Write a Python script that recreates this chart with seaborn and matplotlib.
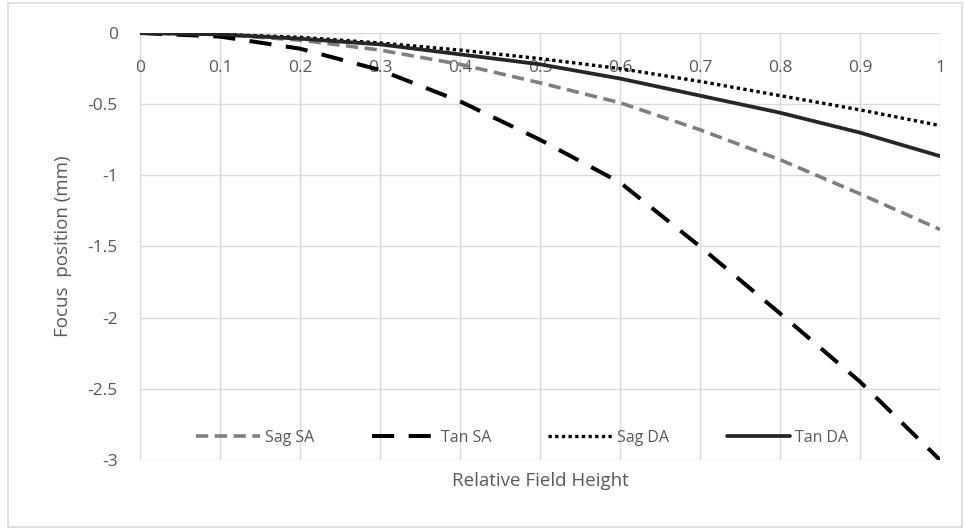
import matplotlib
matplotlib.use("Agg")
import matplotlib.pyplot as plt
import seaborn as sns
import pandas as pd
from matplotlib.patches import Rectangle

field = [0.0, 0.1, 0.2, 0.3, 0.4, 0.5, 0.6, 0.7, 0.8, 0.9, 1.0]
sag_sa = [0.0, -0.01, -0.05, -0.12, -0.22, -0.35, -0.49, -0.68, -0.89, -1.13, -1.38]
tan_sa = [0.0, -0.025, -0.11, -0.26, -0.48, -0.75, -1.05, -1.50, -1.97, -2.45, -3.00]
sag_da = [0.0, -0.01, -0.03, -0.07, -0.12, -0.18, -0.25, -0.34, -0.44, -0.54, -0.65]
tan_da = [0.0, -0.01, -0.04, -0.08, -0.15, -0.22, -0.32, -0.44, -0.56, -0.70, -0.865]
series_names = ["Sag SA", "Tan SA", "Sag DA", "Tan DA"]
x_ticks = [0, 0.1, 0.2, 0.3, 0.4, 0.5, 0.6, 0.7, 0.8, 0.9, 1]
x_tick_labels = ["0", "0.1", "0.2", "0.3", "0.4", "0.5", "0.6", "0.7", "0.8", "0.9", "1"]
y_ticks = [0, -0.5, -1, -1.5, -2, -2.5, -3]
y_tick_labels = ["0", "-0.5", "-1", "-1.5", "-2", "-2.5", "-3"]

sns.set_theme(style="white")
plt.rcParams['font.family'] = ['Open Sans', 'DejaVu Sans']

df = pd.DataFrame({
    "x": field * 4,
    "y": sag_sa + tan_sa + sag_da + tan_da,
    "series": sum([[n] * len(field) for n in series_names], []),
})

fig = plt.figure(figsize=(9.65, 5.29), dpi=100)
ax = fig.add_axes([140 / 965, 1 - 460 / 529, 800 / 965, 427 / 529])

styles = {
    "Sag SA": dict(color="#7f7f7f", lw=2.6, dashes=(3.4, 1.8)),
    "Tan SA": dict(color="#000000", lw=2.9, dashes=(5.5, 3.6)),
    "Sag DA": dict(color="#000000", lw=2.4, dashes=(1.0, 1.0)),
    "Tan DA": dict(color="#262626", lw=2.7, dashes=None),
}
for name in series_names:
    st = styles[name]
    sub = df[df["series"] == name]
    sns.lineplot(data=sub, x="x", y="y", ax=ax, color=st["color"],
                 linewidth=st["lw"], label=name, estimator=None, sort=False)
    l = ax.get_lines()[-1]
    if st["dashes"] is not None:
        l.set_dashes(st["dashes"])
    l.set_dash_capstyle("butt")

ax.set_xlim(0, 1)
ax.set_ylim(-3, 0)
ax.xaxis.tick_top()
ax.set_xticks(x_ticks)
ax.set_xticklabels(x_tick_labels)
ax.set_yticks(y_ticks)
ax.set_yticklabels(y_tick_labels)
ax.tick_params(axis="x", length=0, pad=-31, labelsize=12.5, labelcolor="#595959")
ax.tick_params(axis="y", length=0, pad=16, labelsize=12.5, labelcolor="#595959")
ax.grid(True, color="#d9d9d9", linewidth=1.0)
ax.set_axisbelow(True)
for s in ax.spines.values():
    s.set_visible(False)

ax.set_xlabel("")
ax.set_ylabel("Focus  position (mm)", fontsize=13.5, color="#595959", labelpad=11)
fig.text(540 / 965, 1 - 481 / 529, "Relative Field Height", ha="center", va="center",
         fontsize=13.5, color="#595959")

leg = ax.legend(loc="lower center", bbox_to_anchor=(0.478, 0.0), ncol=4, frameon=False,
                fontsize=11.5, handlelength=4.0, handletextpad=0.3, columnspacing=3.6)
for t in leg.get_texts():
    t.set_color("#595959")

fig.patches.append(Rectangle((8 / 965, 2 / 529), 954 / 965, 524 / 529, transform=fig.transFigure,
                             fill=False, edgecolor="#d9d9d9", linewidth=1.2))

fig.savefig("out.png", dpi=100)
